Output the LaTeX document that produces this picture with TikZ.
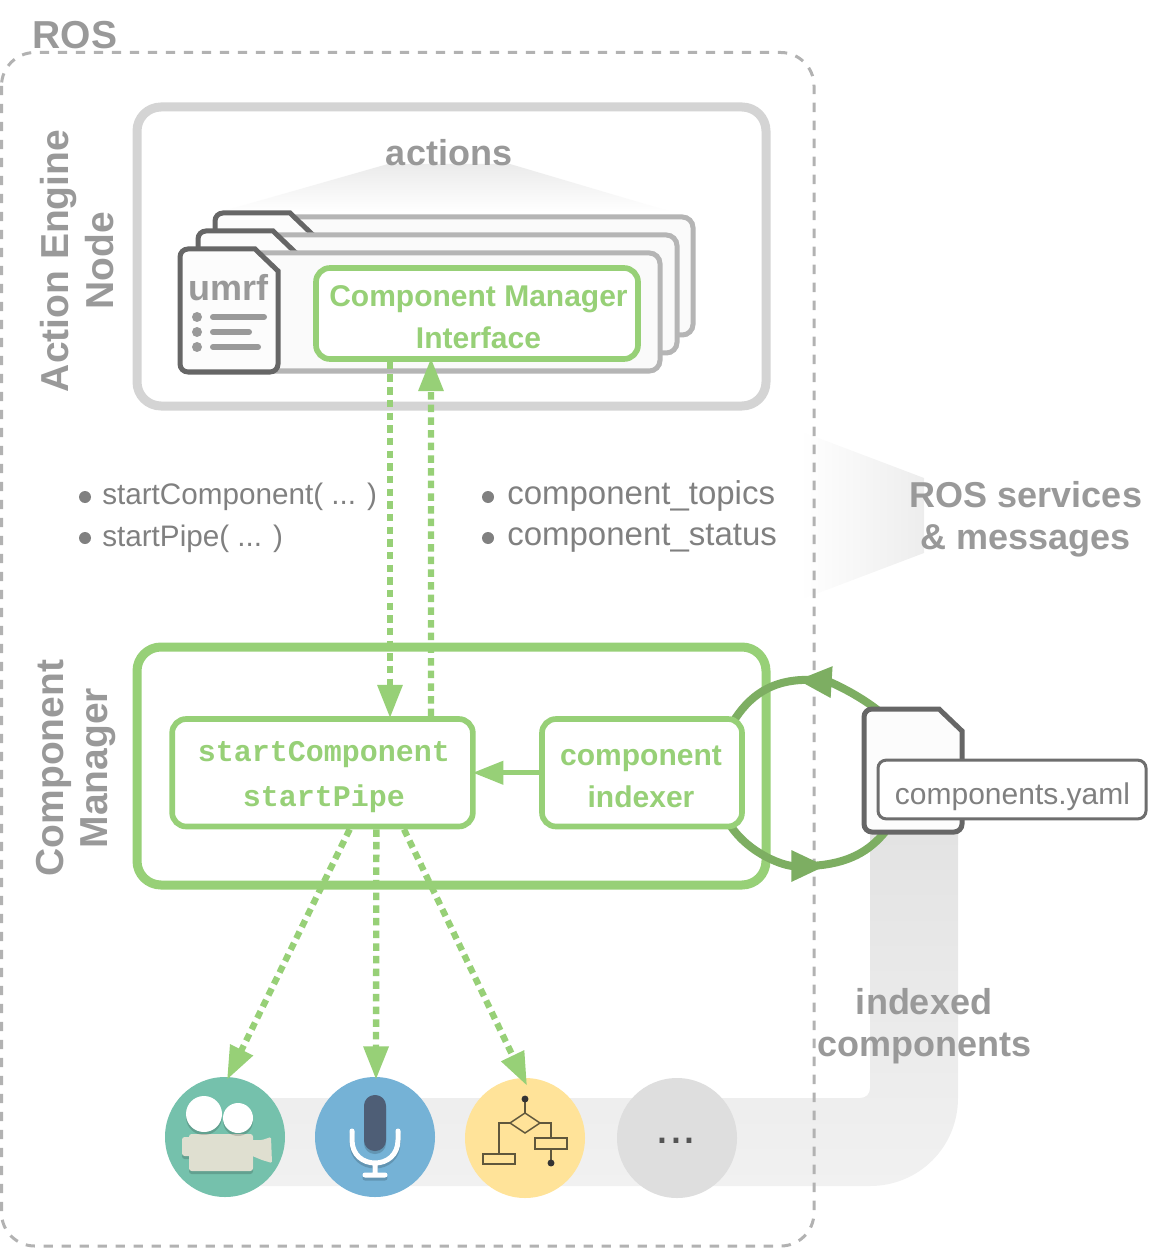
\documentclass[tikz,border=0pt]{standalone}
\usepackage{fontspec}
\setmainfont{Liberation Sans}
\setmonofont{Liberation Mono}
\usetikzlibrary{arrows.meta}

\definecolor{lightgreen}{HTML}{97D077}
\definecolor{loopgreen}{HTML}{7DAE62}
\definecolor{labelgray}{HTML}{999999}
\definecolor{textgray}{HTML}{808080}
\definecolor{sheetgray}{HTML}{B5B5B5}
\definecolor{filegray}{HTML}{666666}
\definecolor{camteal}{HTML}{75C1AC}
\definecolor{cambody}{HTML}{DFDFD0}
\definecolor{micblue}{HTML}{75B2D6}
\definecolor{micdark}{HTML}{4E5E76}
\definecolor{flowyellow}{HTML}{FFE399}
\definecolor{flowdark}{HTML}{5F573C}
\definecolor{moregray}{HTML}{DEDEDE}

\tikzset{
  biglabel/.style={font=\fontsize{27}{31.5}\selectfont\bfseries, text=labelgray, align=center, inner sep=0pt},
  sidelabel/.style={font=\fontsize{29.25}{33.5}\selectfont\bfseries, text=labelgray, align=center, inner sep=0pt},
  listlabel/.style={font=\fontsize{22.25}{27}\selectfont, text=textgray, anchor=west, inner sep=0pt},
  listdot/.style={fill=textgray},
  outerbox/.style={rounded corners=18pt, line width=6.75pt, fill=white},
  greenbox/.style={draw=lightgreen, line width=4.25pt, rounded corners=10.5pt, fill=white, inner sep=0pt},
  greenlabel/.style={text=lightgreen, align=center, inner sep=0pt},
  sheet/.style={draw=sheetgray, line width=3.75pt, rounded corners=8pt, fill=black!2},
  filebox/.style={draw=filegray, line width=3.75pt, fill=black!1},
  filepic/.pic={\draw[filebox] (0,60) [rounded corners=6pt] -- (0,0) [sharp corners] -- (75,0) -- (98,22)
    [rounded corners=6pt] -- (98,123) -- (0,123) -- cycle;},
  dotarrow/.style={draw=lightgreen, line width=4.75pt, dash pattern=on 5.6pt off 3.9pt, -{Triangle[length=25pt,width=18pt,fill=lightgreen]}},
  looparrow/.style={draw=loopgreen, line width=6pt, -{Triangle[length=26pt,width=22pt,fill=loopgreen]}},
  loopline/.style={draw=loopgreen, line width=6pt},
  iconcircle/.style={circle, minimum size=90pt, inner sep=0pt},
  iconshadow/.style={fill=black, opacity=.16},
  flowline/.style={draw=flowdark, line width=1.1pt}
}

\begin{document}
\begin{tikzpicture}[x=0.75pt,y=-0.75pt]
  \useasboundingbox (0,0) rectangle (1149,1251);

  % Band behind the icons, up to the yaml file
  \path[shade, top color=black!11, bottom color=black!5.5]
    (870,830) -- (870,1088) .. controls (870,1094) and (866,1098) .. (860,1098)
    -- (225,1098) -- (225,1186) -- (870,1186)
    .. controls (919,1186) and (958,1147) .. (958,1098) -- (958,830) -- cycle;

  % Fade towards the services label
  \path[shade, left color=white, right color=black!7]
    (800,431) -- (924,478) -- (924,553) -- (800,600) -- cycle;

  % Dashed ROS frame
  \draw[draw=black!30, line width=2.25pt, rounded corners=25pt, dash pattern=on 7pt off 6.5pt]
    (1.5,52.5) rectangle (814,1246);
  \node[sidelabel] (roslabel) at (75,35) {ROS};

  % Action engine
  \node[outerbox, draw=black!17, minimum width=471.75pt, minimum height=224.25pt] (enginebox) at (451.5,256.5) {};
  \node[sidelabel, rotate=90] (enginelabel) at (77,261) {Action Engine\\Node};
  \path[shade, top color=black!8, bottom color=white]
    (388,164) -- (510,164) -- (672,212) -- (220,212) -- cycle;
  \node[biglabel] (actionslabel) at (449,153) {actions};

  % Stack of actions, back to front
  \draw[sheet] (270,217) rectangle (693,335);
  \pic at (215,213) {filepic};
  \draw[sheet] (253,235) rectangle (677,353);
  \pic at (198,231) {filepic};
  \draw[sheet] (235,253) rectangle (660,371);
  \pic at (180,249) {filepic};
  \node[biglabel] (umrflabel) at (228,288) {umrf};
  \fill[labelgray] (197,317) circle (3.75pt) (197,332) circle (3.75pt) (197,347) circle (3.75pt);
  \draw[labelgray, line width=4.5pt, line cap=round]
    (213,317) -- (264,317) (213,332) -- (249,332) (213,347) -- (258,347);
  \node[greenbox, minimum width=241.5pt, minimum height=68.25pt] (cmi) at (477,313.5) {};
  \node[greenlabel, font=\fontsize{22.5}{31.5}\selectfont\bfseries] (cmilabel) at (478.5,317.5)
    {Component Manager\\Interface};

  % Calls and topics
  \fill[listdot] (85,497) circle (4.5pt) (85,538) circle (4.5pt);
  \node[listlabel] (startcomplabel) at (102,497) {startComponent( ... )};
  \node[listlabel] (startpipelabel) at (102,539) {startPipe( ... )};
  \fill[listdot] (488,497) circle (4.5pt) (488,538) circle (4.5pt);
  \node[listlabel, font=\fontsize{24.75}{27}\selectfont] (topicslabel) at (507,496) {component\_topics};
  \node[listlabel, font=\fontsize{24.75}{27}\selectfont] (statuslabel) at (507,538) {component\_status};
  \node[biglabel] (rosservlabel) at (1026,519) {ROS services\\\& messages};

  % Component manager
  \node[outerbox, draw=lightgreen, minimum width=471.75pt, minimum height=178.5pt] (managerbox) at (451.5,766) {};
  \node[sidelabel, rotate=90] (managerlabel) at (76,768) {Component\\Manager};

  % Loop between indexer and yaml file
  \coordinate (yamltop) at (880,712);
  \coordinate (yamlbottom) at (885,832);
  \coordinate (looptop) at (797,680);
  \coordinate (loopbottom) at (826,866);
  \coordinate (indexertop) at (733,722);
  \coordinate (indexerbottom) at (730,825);
  \draw[looparrow] (yamltop) .. controls (858,694) and (830,682) .. (looptop);
  \draw[loopline] ([xshift=12pt]looptop) .. controls (770,678) and (748,698) .. (indexertop);
  \draw[looparrow] (indexerbottom) .. controls (750,855) and (785,866) .. (loopbottom);
  \draw[loopline] ([xshift=-12pt]loopbottom) .. controls (850,864) and (870,850) .. (yamlbottom);
  \node[greenbox, minimum width=150pt, minimum height=80.6pt] (indexer) at (642,772.75) {};
  \node[greenlabel, font=\fontsize{22.5}{31.5}\selectfont\bfseries] (indexerlabel) at (641,776.5)
    {component\\indexer};
  \node[greenbox, minimum width=225.5pt, minimum height=80.6pt] (start) at (322.5,772.75) {};
  \node[greenlabel, font=\fontsize{22.5}{33.75}\selectfont\ttfamily\bfseries] (startlabel) at (324,777.5)
    {startComponent\\startPipe};

  % Yaml file
  \pic at (864,709) {filepic};
  \node[draw=filegray!95, line width=2.25pt, rounded corners=6pt, fill=white, minimum width=201pt, minimum height=44pt, inner sep=0pt]
    (yaml) at (1012,789.5) {};
  \node[text=textgray, font=\fontsize{22.5}{27}\selectfont, inner sep=0pt] (yamllabel) at (1012.5,797) {components.yaml};
  \node[biglabel] (indexedlabel) at (924,1026) {indexed\\components};

  % Camera
  \node[iconcircle, fill=camteal] (cam) at (225,1137) {};
  \path[iconshadow, rounded corners=2pt]
    (189,1137) rectangle (253,1174) (182,1140) rectangle (192,1159);
  \fill[cambody, rounded corners=2pt] (189,1134) rectangle (253,1171) (182,1137) rectangle (192,1156);
  \fill[cambody, rounded corners=1pt] (250,1140) -- (262,1140) -- (271,1137) -- (272,1163) -- (262,1160) -- (250,1155) -- cycle;
  \path[iconshadow] (204,1117) circle (13.5pt) (238,1121) circle (11.25pt);
  \fill[white] (204,1114) circle (13.5pt) (238,1118) circle (11.25pt);

  % Microphone
  \node[iconcircle, fill=micblue] (mic) at (375,1137) {};
  \draw[black, opacity=.16, line width=3.75pt, line cap=round]
    (352,1134) -- (352,1143) .. controls (352,1158) and (363,1166) .. (375,1166)
    .. controls (387,1166) and (398,1158) .. (398,1143) -- (398,1134)
    (375,1166) -- (375,1178) (365,1178) -- (385,1178);
  \draw[white, line width=3.75pt, line cap=round]
    (352,1131) -- (352,1140) .. controls (352,1155) and (363,1163) .. (375,1163)
    .. controls (387,1163) and (398,1155) .. (398,1140) -- (398,1131)
    (375,1163) -- (375,1175) (365,1175) -- (385,1175);
  \fill[black, opacity=.16, rounded corners=8pt] (364,1098) rectangle (386,1154);
  \fill[micdark, rounded corners=8pt] (364,1095) rectangle (386,1151);

  % Flow chart
  \node[iconcircle, fill=flowyellow] (flow) at (525,1138) {};
  \draw[flowline] (525,1113) -- (540,1123) -- (525,1133) -- (510,1123) -- cycle;
  \draw[flowline] (525,1099) -- (525,1113) (510,1123) -- (499,1123) -- (499,1154)
    (540,1123) -- (551,1123) -- (551,1138) (551,1149) -- (551,1163);
  \draw[flowline] (483,1154) rectangle (515,1164) (535,1138) rectangle (567,1149);
  \fill[black!80] (525,1099) circle (2.6pt) (551,1163) circle (2.6pt);

  % Anything else
  \node[iconcircle, fill=moregray] (more) at (677,1138) {};
  \node[text=black!67, font=\fontsize{37.5}{40}\selectfont, inner sep=0pt] (morelabel) at (676,1141) {...};

  % Arrows between the boxes
  \draw[dotarrow] ([xshift=-65.25pt]cmi.south) -- ([shift={(67.5,2)}]start.north);
  \draw[dotarrow] ([xshift=81.4pt]start.north) -- ([shift={(-46,-4)}]cmi.south);
  \draw[draw=lightgreen, line width=3.75pt, -{Triangle[length=23pt,width=17pt,fill=lightgreen]}] (indexer.west) -- ([xshift=-2.25pt]start.east);
  \draw[dotarrow] ([xshift=20.4pt]start.south) -- ([shift={(2,3)}]cam.north);
  \draw[dotarrow] ([xshift=40.4pt]start.south) -- ([shift={(1,3)}]mic.north);
  \draw[dotarrow] ([xshift=61.1pt]start.south) -- ([shift={(2,8)}]flow.north);
\end{tikzpicture}
\end{document}
